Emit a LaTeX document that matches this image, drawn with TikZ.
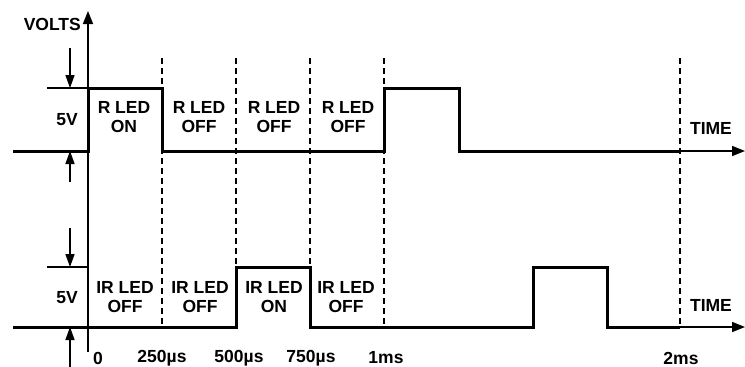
\documentclass[tikz,border=0pt]{standalone}
\usepackage{fontspec}
\setmainfont{Liberation Sans}
\usetikzlibrary{arrows.meta}
\begin{document}
\begin{tikzpicture}[x=1pt,y=-1pt,
  sig/.style={line width=3pt, line join=miter},
  ax/.style={line width=1.6pt},
  dsh/.style={line width=1.6pt, dash pattern=on 6pt off 4pt},
  tipbig/.style={-{Triangle[length=13pt,width=10pt]}},
  tipsmall/.style={-{Triangle[length=13pt,width=9pt]}},
  lbl/.style={font=\fontsize{17.5}{19}\selectfont\bfseries, align=center, inner sep=0pt},
]
\useasboundingbox (0,0) rectangle (745,367);
% dashed time markers
\foreach \x/\yb in {162/327, 236/267, 310/267, 384/327, 680/327}
  \draw[dsh] (\x,58) -- (\x,\yb);
% vertical axis
\coordinate (ax0) at (88,352);
\coordinate (ax1) at (88,11);
\draw[ax,tipbig] (ax0) -- (ax1);
\node[lbl, anchor=east] (volts) at (81,24) {VOLTS};
% top signal
\coordinate (t0) at (13,151);
\coordinate (tend) at (680,151);
\coordinate (tarr) at (745,151);
\draw[sig] (t0) -- (88,151) -- (88,88) -- (162,88) -- (162,151) -- (384,151) -- (384,88) -- (459,88) -- (459,151) -- (tend);
\draw[ax,tipbig] (tend) -- (tarr);
% bottom signal
\coordinate (b0) at (13,327);
\coordinate (bend) at (680,327);
\coordinate (barr) at (745,327);
\draw[sig] (b0) -- (236,327) -- (236,267) -- (310,267) -- (310,327) -- (533,327) -- (533,267) -- (607,267) -- (607,327) -- (bend);
\draw[ax,tipbig] (bend) -- (barr);
% 5V dimension marks
\draw[ax] (47,88) -- (88,88);
\draw[ax] (47,267) -- (88,267);
\draw[ax,tipsmall] (70,48) -- (70,88);
\draw[ax,tipsmall] (70,182) -- (70,151);
\draw[ax,tipsmall] (70,228) -- (70,267);
\draw[ax,tipsmall] (70,367) -- (70,327);
\node[lbl] (v1) at (67,120) {5V};
\node[lbl] (v2) at (67,298) {5V};
% state labels
\node[lbl] (r1) at (124,117) {R LED\\ON};
\node[lbl] (r2) at (199,117) {R LED\\OFF};
\node[lbl] (r3) at (274,117) {R LED\\OFF};
\node[lbl] (r4) at (348,117) {R LED\\OFF};
\node[lbl] (i1) at (125,297) {IR LED\\OFF};
\node[lbl] (i2) at (200,297) {IR LED\\OFF};
\node[lbl] (i3) at (274,297) {IR LED\\ON};
\node[lbl] (i4) at (346,297) {IR LED\\OFF};
% time labels
\node[lbl] (tl0) at (98,358) {0};
\node[lbl] (tl1) at (162,358) {250µs};
\node[lbl] (tl2) at (239,358) {500µs};
\node[lbl] (tl3) at (311,358) {750µs};
\node[lbl] (tl4) at (386,358) {1ms};
\node[lbl] (tl5) at (681,358) {2ms};
\node[lbl] (time1) at (711,128) {TIME};
\node[lbl] (time2) at (711,305) {TIME};
\end{tikzpicture}
\end{document}
